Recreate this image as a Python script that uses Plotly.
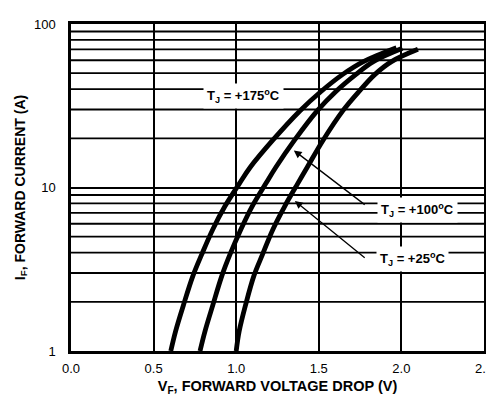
import plotly.graph_objects as go
import numpy as np

# Forward current (A) sample levels
i_levels = [1.0, 1.32, 1.9, 2.88, 3.91, 5.54, 7.62, 10.6, 13.3, 19.4, 29.4, 38.8, 49.2, 58.9]
# Forward voltage (V) for each junction temperature
v_175 = [0.604, 0.633, 0.680, 0.738, 0.792, 0.858, 0.930, 1.020, 1.085, 1.220,
         1.385, 1.515, 1.645, 1.770, 1.97]
i_175 = i_levels + [71.6]
v_100 = [0.781, 0.811, 0.858, 0.913, 0.963, 1.028, 1.095, 1.180, 1.240, 1.352,
         1.490, 1.605, 1.725, 1.830, 2.006]
i_100 = i_levels + [71.0]
v_25 = [1.000, 1.018, 1.056, 1.107, 1.160, 1.222, 1.292, 1.373, 1.430, 1.525,
        1.645, 1.745, 1.840, 1.940, 2.10]
i_25 = i_levels + [70.0]

x_ticks = [0.0, 0.5, 1.0, 1.5, 2.0, 2.5]
x_tick_labels = ["0.0", "0.5", "1.0", "1.5", "2.0", "2.5"]
y_ticks = [1, 10, 100]
y_tick_labels = ["1", "10", "100"]
minor_vals = [2, 3, 4, 5, 6, 7, 8, 9, 20, 30, 40, 50, 60, 70, 80, 90]

FONT = "Liberation Sans, Arial, sans-serif"

fig = go.Figure()
for v, i in [(v_175, i_175), (v_100, i_100), (v_25, i_25)]:
    fig.add_trace(go.Scatter(x=v, y=i, mode="lines",
                             line=dict(color="black", width=4.8, shape="spline", smoothing=1.0),
                             showlegend=False, hoverinfo="skip"))

# minor horizontal grid lines (log decades)
for val in minor_vals:
    fig.add_shape(type="line", xref="paper", yref="y", x0=0, x1=1,
                  y0=val, y1=val,
                  line=dict(color="black", width=1.8), layer="below")

annots = []
# arrows
annots.append(dict(x=1.349, y=1.227, ax=1.787, ay=np.log10(7.73), xref="x", yref="y",
                   axref="x", ayref="y", text="", showarrow=True, arrowhead=2,
                   arrowsize=1.2, arrowwidth=1.3, arrowcolor="black"))
annots.append(dict(x=1.355, y=0.918, ax=1.787, ay=np.log10(3.65), xref="x", yref="y",
                   axref="x", ayref="y", text="", showarrow=True, arrowhead=2,
                   arrowsize=1.2, arrowwidth=1.3, arrowcolor="black"))
labels = [("+175", 1.047, 1.559), ("+100", 2.095, 0.864), ("+25", 2.07, 0.562)]
for t, x, y in labels:
    annots.append(dict(x=x, y=y, xref="x", yref="y", showarrow=False,
                       text="<b>T<sub>J</sub> = " + t + "<sup>o</sup>C</b>",
                       font=dict(family=FONT, size=13, color="black"),
                       bgcolor="white", borderpad=3))

fig.update_layout(
    width=494, height=401,
    margin=dict(l=63, r=9, t=12, b=58),
    paper_bgcolor="white", plot_bgcolor="white",
    annotations=annots,
    font=dict(family=FONT, color="black"),
    xaxis=dict(range=[0, 2.5], tickvals=x_ticks, ticktext=x_tick_labels,
               showgrid=True, gridcolor="black", gridwidth=1.8,
               showline=True, linecolor="black", linewidth=2.5, mirror=True,
               zeroline=False, ticks="", tickfont=dict(size=13, family=FONT),
               ticklabelstandoff=4,
               title=dict(text="<b>V<sub>F</sub>, FORWARD VOLTAGE DROP (V)</b>",
                          font=dict(size=14.5, family=FONT), standoff=6)),
    yaxis=dict(type="log", range=[0, 2], tickvals=y_ticks, ticktext=y_tick_labels,
               showgrid=True, gridcolor="black", gridwidth=1.8,
               showline=True, linecolor="black", linewidth=2.5, mirror=True,
               zeroline=False, ticks="", tickfont=dict(size=13, family=FONT),
               ticklabelstandoff=10,
               title=dict(text="<b>I<sub>F</sub>, FORWARD CURRENT (A)</b>",
                          font=dict(size=14, family=FONT), standoff=6)),
)
fig.update_xaxes(tickprefix="<b>", ticksuffix="</b>")
fig.update_yaxes(tickprefix="<b>", ticksuffix="</b>")

fig.write_html("out.html")
